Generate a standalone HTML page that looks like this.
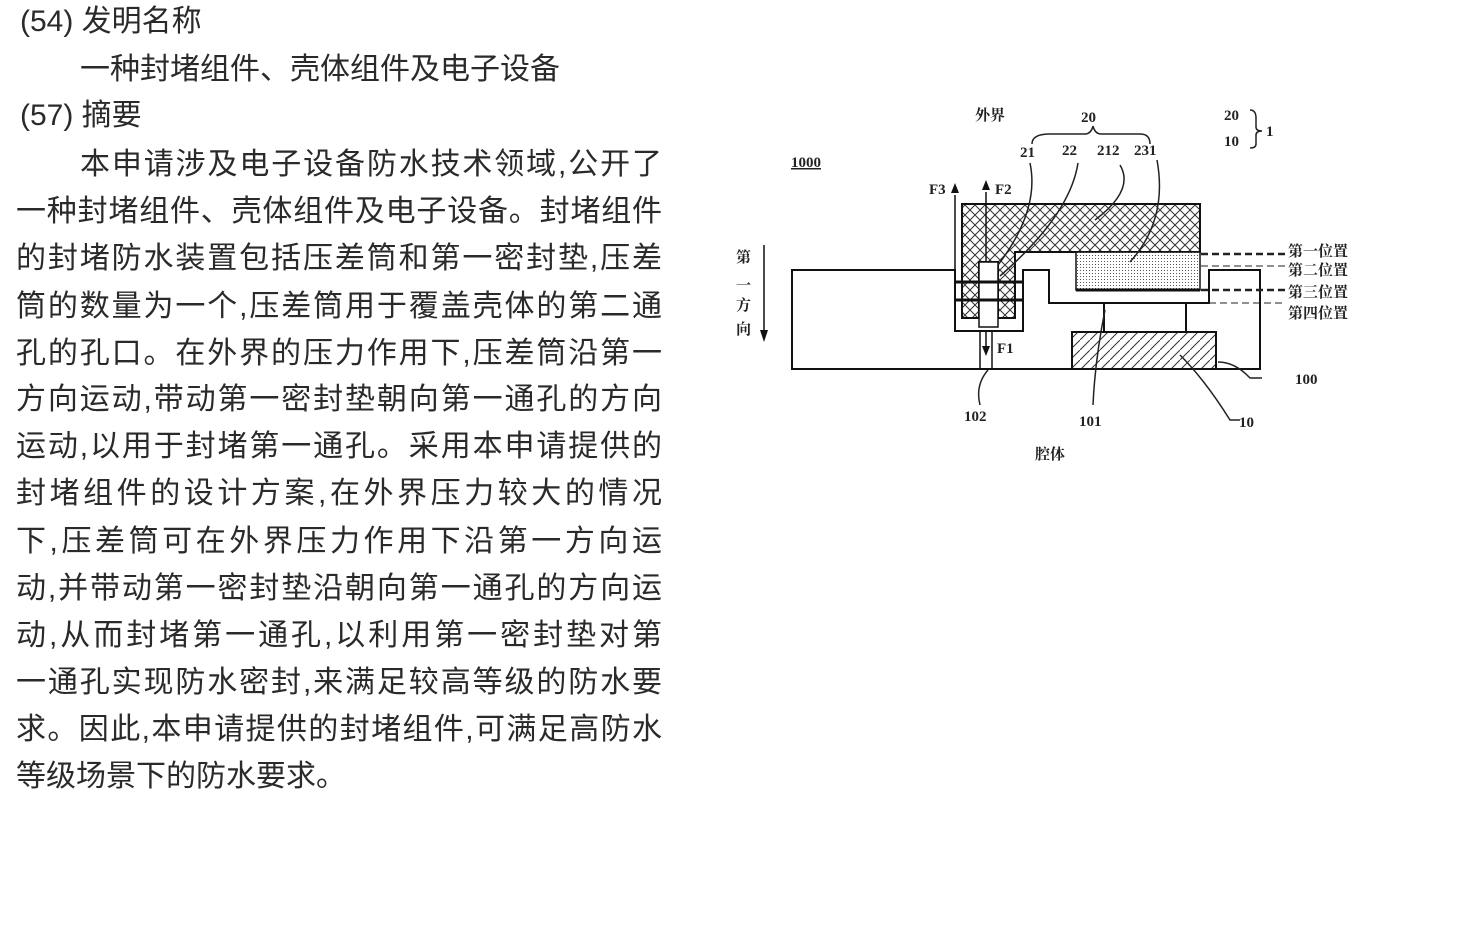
<!DOCTYPE html>
<html><head><meta charset="utf-8"><style>
body{margin:0;width:1464px;height:940px;background:#fff;overflow:hidden;position:relative;font-family:"Liberation Sans","Noto Sans CJK SC",sans-serif;color:#2a2a2a}
.t{position:absolute;font-size:30px;line-height:36px;white-space:nowrap}
.j{position:absolute;left:16px;width:646px;font-size:30px;line-height:36px;text-align:justify;text-align-last:justify;white-space:nowrap}
</style></head><body>
<div class="t" style="left:20px;top:4px">(54) 发明名称</div>
<div class="t" style="left:80px;top:52px">一种封堵组件、壳体组件及电子设备</div>
<div class="t" style="left:20px;top:98px">(57) 摘要</div>
<div class="j" style="left:80px;width:582px;top:147px">本申请涉及电子设备防水技术领域,公开了</div>
<div class="j" style="top:194px">一种封堵组件、壳体组件及电子设备。封堵组件</div>
<div class="j" style="top:241px">的封堵防水装置包括压差筒和第一密封垫,压差</div>
<div class="j" style="top:289px">筒的数量为一个,压差筒用于覆盖壳体的第二通</div>
<div class="j" style="top:336px">孔的孔口。在外界的压力作用下,压差筒沿第一</div>
<div class="j" style="top:382px">方向运动,带动第一密封垫朝向第一通孔的方向</div>
<div class="j" style="top:429px">运动,以用于封堵第一通孔。采用本申请提供的</div>
<div class="j" style="top:476px">封堵组件的设计方案,在外界压力较大的情况</div>
<div class="j" style="top:524px">下,压差筒可在外界压力作用下沿第一方向运</div>
<div class="j" style="top:571px">动,并带动第一密封垫沿朝向第一通孔的方向运</div>
<div class="j" style="top:618px">动,从而封堵第一通孔,以利用第一密封垫对第</div>
<div class="j" style="top:665px">一通孔实现防水密封,来满足较高等级的防水要</div>
<div class="j" style="top:712px">求。因此,本申请提供的封堵组件,可满足高防水</div>
<div class="t" style="left:16px;top:759px">等级场景下的防水要求。</div>

<svg width="1464" height="940" style="position:absolute;left:0;top:0" font-family="Liberation Serif,Noto Serif CJK SC,serif" font-weight="bold" fill="#222">
<defs>
<pattern id="cx" width="10" height="10" patternUnits="userSpaceOnUse"><rect width="10" height="10" fill="#fff"/><path d="M0 0L10 10M10 0L0 10" stroke="#333" stroke-width="1"/></pattern>
<pattern id="dt" width="3" height="3" patternUnits="userSpaceOnUse"><rect width="3" height="3" fill="#fff"/><rect width="1" height="1" fill="#555"/></pattern>
<pattern id="hs" width="10" height="10" patternUnits="userSpaceOnUse"><rect width="10" height="10" fill="#fff"/><path d="M0 10L10 0" stroke="#333" stroke-width="1"/></pattern>
</defs>
<g stroke="#111" stroke-width="2" fill="none">
<path d="M955 270H792V369H1260V270H1209V303H1049V270H1023V331H955Z"/>
<line x1="1104" y1="303" x2="1104" y2="332"/><line x1="1186" y1="303" x2="1186" y2="332"/>
</g>
<rect x="1072" y="332" width="144" height="37" fill="url(#hs)" stroke="#111" stroke-width="2"/>
<path d="M962 204H1200V252H1015V318H998V262H979V318H962Z" fill="url(#cx)" stroke="#111" stroke-width="2"/>
<rect x="1076" y="252" width="124" height="38" fill="url(#dt)" stroke="#111" stroke-width="1.5"/>
<line x1="1076" y1="290" x2="1200" y2="290" stroke="#111" stroke-width="3"/>
<rect x="979" y="262" width="19" height="65" fill="#fff" stroke="#111" stroke-width="1.5"/>
<g stroke="#111" stroke-width="3"><line x1="955" y1="282" x2="1023" y2="282"/><line x1="955" y1="300" x2="1023" y2="300"/></g>
<g stroke="#111" stroke-width="1.5"><line x1="980" y1="331" x2="980" y2="369"/><line x1="992" y1="331" x2="992" y2="369"/>
<line x1="955" y1="195" x2="955" y2="270"/><line x1="986" y1="192" x2="986" y2="262"/><line x1="986" y1="331" x2="986" y2="352"/>
<line x1="764" y1="245" x2="764" y2="335"/></g>
<path d="M951 193L955 183L959 193Z M982 190L986 180L990 190Z M982 346L986 356L990 346Z M760 330L764 342L768 330Z" fill="#111"/>
<g stroke="#222" stroke-width="1.5" fill="none">
<path d="M1201 254H1285M1201 290H1285" stroke-dasharray="7 4" stroke-width="2.5"/>
<path d="M1201 266H1285M1209 303H1285" stroke-dasharray="7 4" stroke-width="1"/>
<path d="M1032 144Q1032 134 1050 134H1085Q1091 134 1093 126Q1095 134 1101 134H1140Q1150 134 1150 144"/>
<path d="M1250 110Q1256 110 1256 118V127Q1256 131 1262 131Q1256 131 1256 135V144Q1256 148 1250 148"/>
<path d="M1030 163Q1040 210 998 265M1078 163Q1070 215 1000 276M1120 165Q1135 190 1095 220M1157 160Q1168 220 1130 262"/>
<path d="M1105 310Q1095 360 1093 405M1180 355Q1205 380 1230 420H1240M1218 362Q1235 362 1250 378H1262M988 370Q975 385 980 405"/>
</g>
<g font-size="15">
<text x="975" y="120">外界</text>
<text x="1081" y="122">20</text>
<text x="1224" y="120">20</text><text x="1224" y="146">10</text><text x="1266" y="136">1</text>
<text x="1020" y="157">21</text><text x="1062" y="155">22</text><text x="1097" y="155">212</text><text x="1134" y="155">231</text>
<text x="791" y="167" text-decoration="underline">1000</text>
<text x="929" y="194">F3</text><text x="995" y="194">F2</text><text x="997" y="353">F1</text>
<text x="964" y="421">102</text><text x="1079" y="426">101</text><text x="1239" y="427">10</text><text x="1295" y="384">100</text>
<text x="1035" y="459">腔体</text>
<text x="736" y="262">第</text><text x="736" y="290">一</text><text x="736" y="310">方</text><text x="736" y="334">向</text>
<text x="1288" y="256">第一位置</text><text x="1288" y="275">第二位置</text><text x="1288" y="297">第三位置</text><text x="1288" y="318">第四位置</text>
</g>
</svg>
</body></html>
